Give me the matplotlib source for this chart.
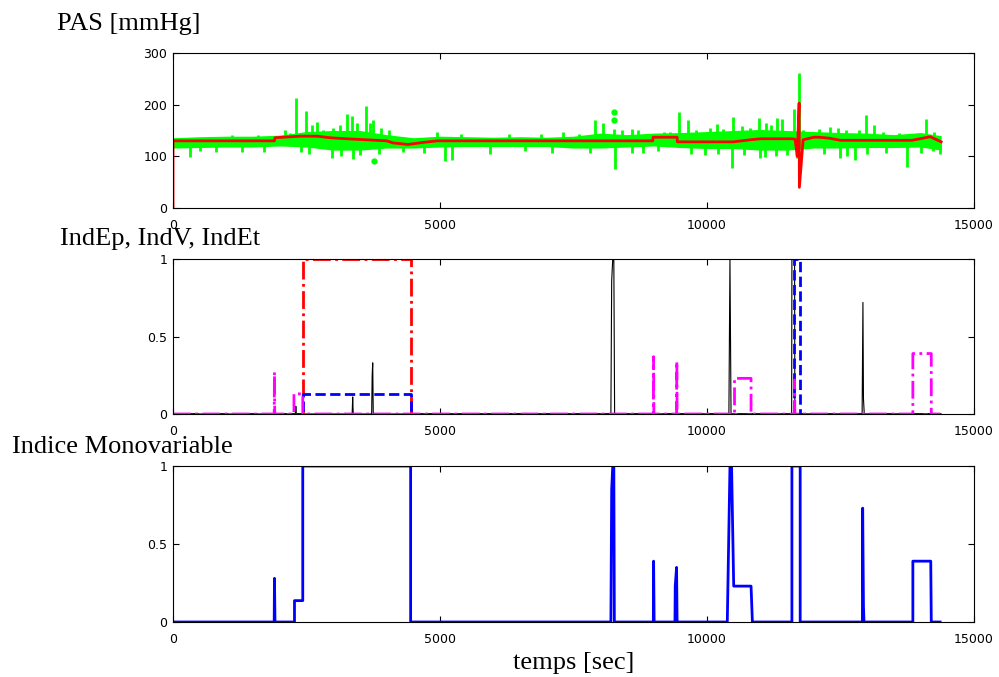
import matplotlib as mpl
import matplotlib.pyplot as plt

mpl.rcParams.update({
    "font.family": "sans-serif",
    "font.sans-serif": ["DejaVu Sans"],
    "font.size": 9,
    "axes.linewidth": 0.8,
    "xtick.direction": "in", "ytick.direction": "in",
    "xtick.top": True, "ytick.right": True,
    "xtick.major.size": 4, "ytick.major.size": 4,
    "xtick.major.pad": 8, "ytick.major.pad": 4,
})

# --- PAS: green band (envelope), spikes, isolated points, red trend ---
env_t = [0, 500, 1000, 1500, 2000, 2500, 3000, 3500, 4000, 4500, 5000, 5500,
         6000, 6500, 7000, 7500, 8000, 8500, 9000, 9500, 10000, 10500, 11000,
         11500, 12000, 12500, 13000, 13500, 14000, 14385]
env_hi = [136, 138, 139, 139, 141, 148, 150, 150, 142, 136, 139, 138, 137, 138,
          137, 139, 145, 142, 145, 146, 148, 150, 152, 150, 148, 146, 145, 142,
          146, 140]
env_lo = [116, 117, 118, 118, 120, 118, 112, 112, 116, 116, 118, 119, 119, 119,
          119, 116, 116, 118, 120, 117, 115, 115, 112, 112, 116, 116, 117, 117,
          118, 112]

spike_up_t = [2300, 2485, 2690, 3000, 3125, 3250, 3345, 3610, 3690, 3750, 4940,
              7310, 7905, 8060, 8250, 9485, 9650, 10060, 10180, 10480, 10650,
              10965, 11310, 11400, 11630, 11715, 12300, 12980, 13120, 14100,
              1100, 1600, 2100, 2200, 2600, 2800, 2900, 3450, 3900, 4050, 5400,
              6300, 6900, 7600, 8400, 8600, 8700, 9200, 9300, 9800, 10300,
              10800, 11100, 11200, 11800, 12100, 12450, 12600, 12850, 13300,
              13600, 14250]
spike_up_v = [212, 188, 167, 155, 160, 182, 178, 198, 165, 170, 148, 147, 170,
              165, 153, 186, 170, 155, 163, 177, 158, 174, 174, 172, 191, 261,
              157, 180, 160, 172,
              142, 141, 150, 145, 160, 150, 148, 165, 155, 150, 143, 143, 143,
              144, 150, 153, 150, 147, 148, 150, 152, 155, 165, 160, 150, 152,
              155, 150, 150, 148, 146, 148]
spike_dn_t = [320, 2970, 3365, 5095, 5220, 5940, 7090, 7810, 8270, 9090, 9965,
              10465, 10995, 11080, 11690, 12490, 12630, 12775, 13740, 14240,
              14365,
              500, 800, 1300, 1700, 2400, 2550, 3150, 3500, 3850, 4300, 4700,
              6600, 8600, 8800, 9700, 10200, 10700, 11300, 11500, 12200, 13000,
              13350, 14000]
spike_dn_v = [99, 96, 94, 91, 93, 104, 106, 106, 75, 110, 102, 77, 96, 98, 97,
              97, 100, 92, 79, 110, 104,
              110, 108, 108, 109, 108, 104, 100, 103, 105, 108, 106, 110, 107,
              106, 105, 104, 103, 100, 103, 105, 105, 107, 106]
dots_t = [3770, 8250, 8250]
dots_v = [90, 186, 170]

red_t = [0, 0, 1900, 1910, 2380, 2700, 2940, 3250, 3630, 4000, 4120, 4400,
         4690, 4950, 8985, 8990, 9440, 9445, 10490, 10810, 11000, 11600, 11650,
         11690, 11700, 11725, 11730, 11800, 12000, 12100, 12300, 12500, 13840,
         14180, 14385]
red_v = [0, 130, 130, 136, 139, 139, 136, 134, 132, 130, 126, 123, 127, 130,
         130, 137, 137, 128, 128, 132, 134, 134, 133, 100, 130, 203, 40, 132,
         137, 137, 135, 131, 131, 138, 128]

# --- individual indices ---
black_t = [0, 2290, 2300, 2310, 3355, 3365, 3375, 3720, 3730, 3740, 3750, 8200,
           8215, 8235, 8255, 8270, 10410, 10430, 10450, 11585, 11590, 11640,
           11645, 12905, 12920, 12930, 12945, 14385]
black_v = [0, 0, 0.05, 0, 0, 0.11, 0, 0, 0.25, 0.33, 0, 0, 0.86, 1, 1, 0, 0, 1,
           0, 0, 1, 1, 0, 0, 0.72, 0.1, 0, 0]
red_idx_t = [0, 2430, 2430, 4450, 4450, 14385]
red_idx_v = [0, 0, 1, 1, 0, 0]
blue_idx_t = [0, 2430, 2430, 4450, 4450, 11620, 11620, 11735, 11735, 14385]
blue_idx_v = [0, 0, 0.13, 0.13, 0, 0, 1, 1, 0, 0]
mag_t = [0, 1895, 1900, 1905, 2265, 2265, 2430, 2430, 8995, 9000, 9005, 9430,
         9435, 9440, 10515, 10515, 10825, 10825, 11635, 11640, 11645, 13855,
         13855, 14200, 14200, 14365]
mag_v = [0, 0, 0.27, 0, 0, 0.13, 0.13, 0, 0, 0.37, 0, 0, 0.34, 0, 0, 0.23, 0.23,
         0, 0, 0.22, 0, 0, 0.39, 0.39, 0, 0]

# --- monovariable index ---
mono_t = [0, 1895, 1900, 1910, 2275, 2275, 2430, 2430, 4450, 4450, 8200, 8215,
          8235, 8255, 8265, 8995, 9000, 9010, 9400, 9405, 9430, 9440, 10380,
          10430, 10460, 10500, 10825, 10850, 11590, 11590, 11745, 11745, 12910,
          12915, 12930, 12940, 13855, 13855, 14190, 14200, 14365]
mono_v = [0, 0, 0.28, 0, 0, 0.137, 0.137, 1, 1, 0, 0, 0.85, 1, 1, 0, 0, 0.39, 0,
          0, 0.23, 0.35, 0, 0, 1, 1, 0.23, 0.23, 0, 0, 1, 1, 0, 0, 0.73, 0.1, 0,
          0, 0.39, 0.39, 0, 0]

W, H = 999, 677
fig = plt.figure(figsize=(W / 100, H / 100), dpi=100)

def add_ax(top, bottom):
    return fig.add_axes([173 / W, 1 - bottom / H, 801 / W, (bottom - top) / H])

serif = {"family": ["Liberation Serif", "DejaVu Serif"], "size": 19}

ax = add_ax(53, 208)
ax.fill_between(env_t, env_lo, env_hi, color="#00ff00", lw=0)
ax.vlines(spike_up_t, 130, spike_up_v, color="#00ff00", lw=2)
ax.vlines(spike_dn_t, spike_dn_v, 130, color="#00ff00", lw=2)
ax.plot(dots_t, dots_v, "o", color="#00ff00", ms=3.5)
ax.plot(red_t, red_v, color="red", lw=2)
ax.set_ylim(0, 300)
ax.set_yticks([0, 100, 200, 300])
fig.text(57 / W, 1 - 30 / H, "PAS [mmHg]", fontdict=serif)

ax = add_ax(259, 414)
ax.plot(black_t, black_v, color="black", lw=0.8)
ax.plot(red_idx_t, red_idx_v, color="red", lw=2, ls="-.")
ax.plot(blue_idx_t, blue_idx_v, color="blue", lw=2, ls="--")
ax.plot(mag_t, mag_v, color="magenta", lw=2, ls="-.")
ax.set_ylim(0, 1)
ax.set_yticks([0, 0.5, 1])
ax.set_yticklabels(["0", "0.5", "1"])
fig.text(60 / W, 1 - 245 / H, "IndEp, IndV, IndEt", fontdict=serif)

ax = add_ax(466, 622)
ax.plot(mono_t, mono_v, color="blue", lw=2)
ax.set_ylim(0, 1)
ax.set_yticks([0, 0.5, 1])
ax.set_yticklabels(["0", "0.5", "1"])
fig.text(12 / W, 1 - 453 / H, "Indice Monovariable", fontdict=serif)
fig.text(574 / W, 1 - 669 / H, "temps [sec]", fontdict=serif, ha="center")

for ax in fig.axes:
    ax.set_xlim(0, 15000)
    ax.set_xticks([0, 5000, 10000, 15000])

fig.savefig("out.png", dpi=100)
